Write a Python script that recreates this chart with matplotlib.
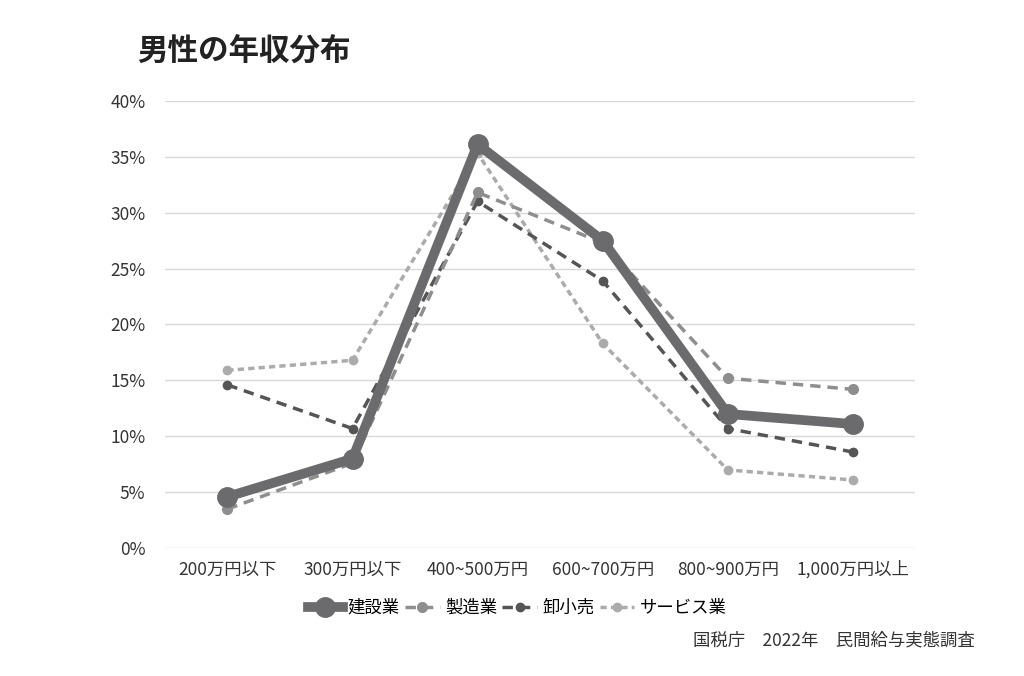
import matplotlib.pyplot as plt
from matplotlib.ticker import FuncFormatter

plt.rcParams['font.family'] = ['Noto Sans CJK JP', 'DejaVu Sans']

categories = ['200万円以下', '300万円以下', '400~500万円', '600~700万円', '800~900万円', '1,000万円以上']
kensetsu = [4.6, 8.0, 36.1, 27.5, 12.0, 11.1]
seizo = [3.5, 7.6, 31.8, 27.3, 15.2, 14.2]
oroshi = [14.6, 10.7, 31.0, 23.9, 10.7, 8.6]
service = [15.9, 16.8, 35.3, 18.3, 7.0, 6.1]

fig = plt.figure(figsize=(10.24, 6.76), dpi=100)
ax = fig.add_axes([0.161, 0.189, 0.733, 0.662])

x = range(len(categories))
ax.plot(x, service, color='#ababab', lw=2.5, ls=(0, (1.8, 1.2)), marker='o', ms=6, label='サービス業', zorder=2)
ax.plot(x, oroshi, color='#555555', lw=2.5, ls=(0, (3, 2)), marker='o', ms=6, label='卸小売', zorder=3)
ax.plot(x, seizo, color='#8e8e8e', lw=2.5, ls=(0, (3, 2)), marker='o', ms=7, label='製造業', zorder=4)
ax.plot(x, kensetsu, color='#6b6b6d', lw=7, marker='o', ms=14, label='建設業', zorder=5)

ax.set_xlim(-0.5, 5.5)
ax.set_ylim(0, 40)
ax.set_yticks(range(0, 41, 5))
ax.yaxis.set_major_formatter(FuncFormatter(lambda v, p: f'{int(v)}%'))
ax.set_xticks(list(x))
ax.set_xticklabels(categories)
ax.grid(axis='y', color='#d9d9d9', lw=1)
ax.set_axisbelow(True)
for s in ax.spines.values():
    s.set_visible(False)
ax.tick_params(length=0, labelsize=12.5, colors='#333333')
ax.tick_params(axis='x', pad=9)
ax.tick_params(axis='y', pad=14)

handles, labels = ax.get_legend_handles_labels()
fig.legend(handles[::-1], labels[::-1], loc='center', bbox_to_anchor=(0.505, 0.101), ncol=4,
           frameon=False, fontsize=12.5, handlelength=2.0, handletextpad=0.3, columnspacing=0.3)

fig.text(0.134, 0.925, '男性の年収分布', fontsize=22, fontweight='bold', color='#222222', va='center')
fig.text(0.952, 0.052, '国税庁　2022年　民間給与実態調査', fontsize=12.5, color='#333333', ha='right', va='center')

fig.savefig('out.png', dpi=100)
